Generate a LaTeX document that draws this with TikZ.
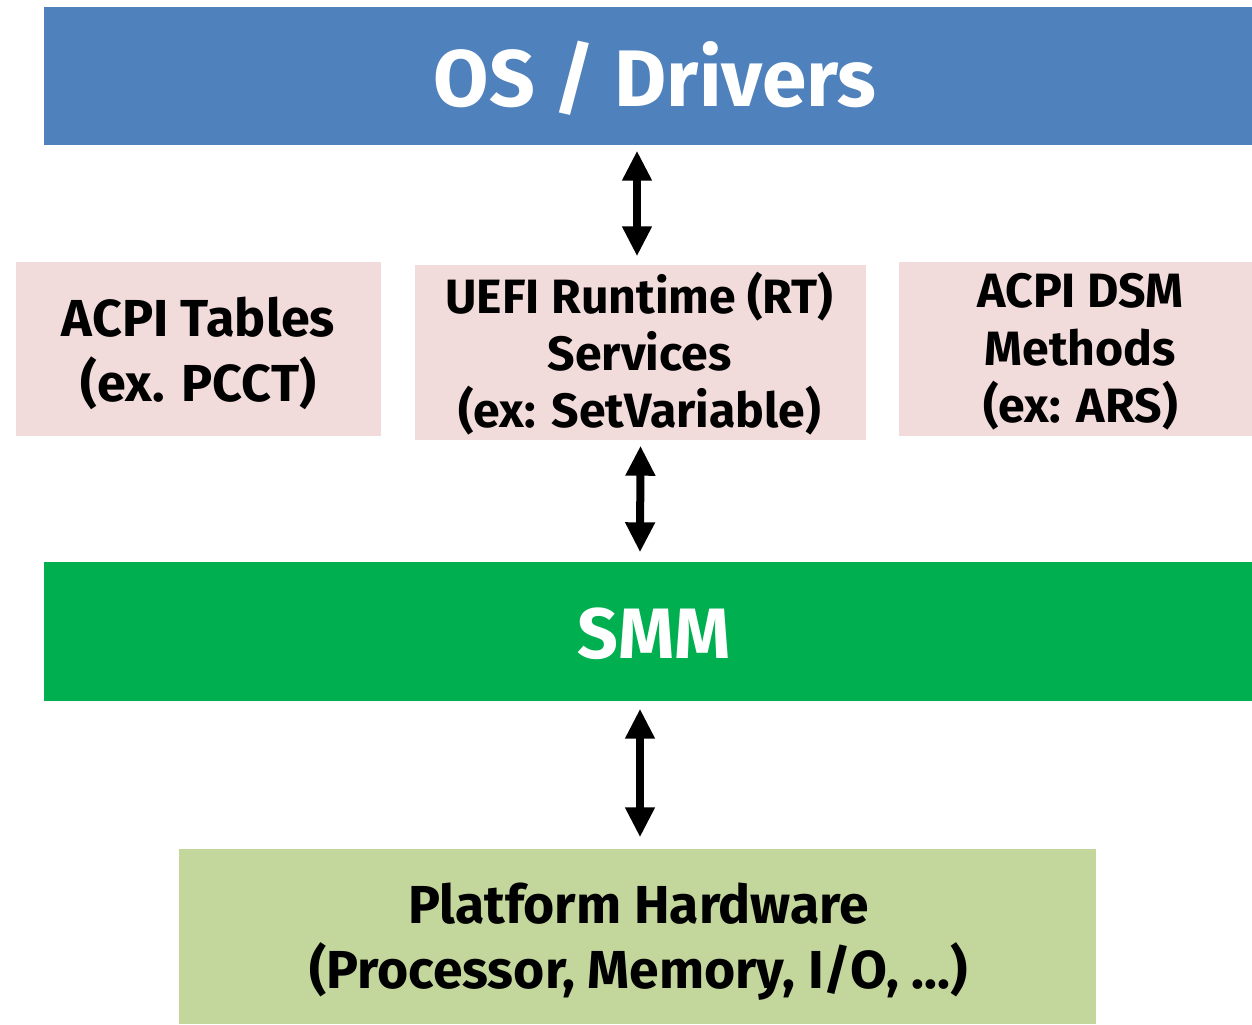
\documentclass[tikz,border=0pt]{standalone}
\usepackage{fontspec}
\setmainfont{Fira Sans}
\usetikzlibrary{arrows.meta}
\definecolor{osblue}{HTML}{4F81BD}
\definecolor{fwpink}{HTML}{F2DCDB}
\definecolor{smmgreen}{HTML}{00B050}
\definecolor{hwgreen}{HTML}{C3D69B}
\tikzset{
  layer/.style={fill=#1, draw=none, inner sep=0pt},
  caption/.style={inner sep=0pt, align=center},
  both/.style={line width=8*0.01cm, {Triangle[width=28*0.01cm,length=30*0.01cm]}-{Triangle[width=28*0.01cm,length=30*0.01cm]}},
}
\begin{document}
\begin{tikzpicture}[x=0.01cm,y=-0.01cm]
\useasboundingbox (0,0) rectangle (1252,1024);
\fill[white] (0,0) rectangle (1252,1024);
% layer boxes
\node[layer=osblue, minimum width=1208*0.01cm, minimum height=138*0.01cm] (os) at (648,76) {};
\node[layer=fwpink, minimum width=365*0.01cm, minimum height=174*0.01cm] (acpi) at (198.5,349) {};
\node[layer=fwpink, minimum width=451*0.01cm, minimum height=175*0.01cm] (uefi) at (640.5,352.5) {};
\node[layer=fwpink, minimum width=353*0.01cm, minimum height=174*0.01cm] (dsm) at (1075.5,349) {};
\node[layer=smmgreen, minimum width=1208*0.01cm, minimum height=139*0.01cm] (smm) at (648,631.5) {};
\node[layer=hwgreen, minimum width=917*0.01cm, minimum height=175*0.01cm] (hw) at (637.5,936.5) {};
% box texts
\node[caption, text=white, font=\bfseries\fontsize{22.8}{26}\selectfont] (os-text) at ([xshift=7*0.01cm,yshift=-2*0.01cm]os.center) {OS / Drivers};
\node[caption, font=\bfseries\fontsize{14.8}{18.5}\selectfont] (acpi-text) at ([yshift=-4*0.01cm]acpi.center) {ACPI Tables\\(ex. PCCT)};
\node[caption, font=\bfseries\fontsize{13.7}{16.3}\selectfont] (uefi-text) at ([xshift=-1*0.01cm,yshift=-1*0.01cm]uefi.center) {UEFI Runtime (RT)\\Services\\(ex: SetVariable)};
\node[caption, font=\bfseries\fontsize{13.7}{16.3}\selectfont] (dsm-text) at ([xshift=5*0.01cm,yshift=-3*0.01cm]dsm.center) {ACPI DSM\\Methods\\(ex: ARS)};
\node[caption, text=white, font=\bfseries\fontsize{20.3}{24}\selectfont] (smm-text) at ([xshift=6*0.01cm,yshift=-2*0.01cm]smm.center) {SMM};
\node[caption, font=\bfseries\fontsize{15.2}{18.5}\selectfont] (hw-text) at ([xshift=1*0.01cm,yshift=-5*0.01cm]hw.center) {Platform Hardware\\(Processor, Memory, I/O, \dots)};
% connectors
\draw[both] ([xshift=-11*0.01cm,yshift=-5*0.01cm]os.south) -- ([xshift=-3.5*0.01cm,yshift=8*0.01cm]uefi.north);
\draw[both] ([yshift=-5*0.01cm]uefi.south) -- ([xshift=-8*0.01cm,yshift=9*0.01cm]smm.north);
\draw[both] ([xshift=-8*0.01cm,yshift=-7*0.01cm]smm.south) -- ([xshift=2.5*0.01cm,yshift=11*0.01cm]hw.north);
\end{tikzpicture}
\end{document}
